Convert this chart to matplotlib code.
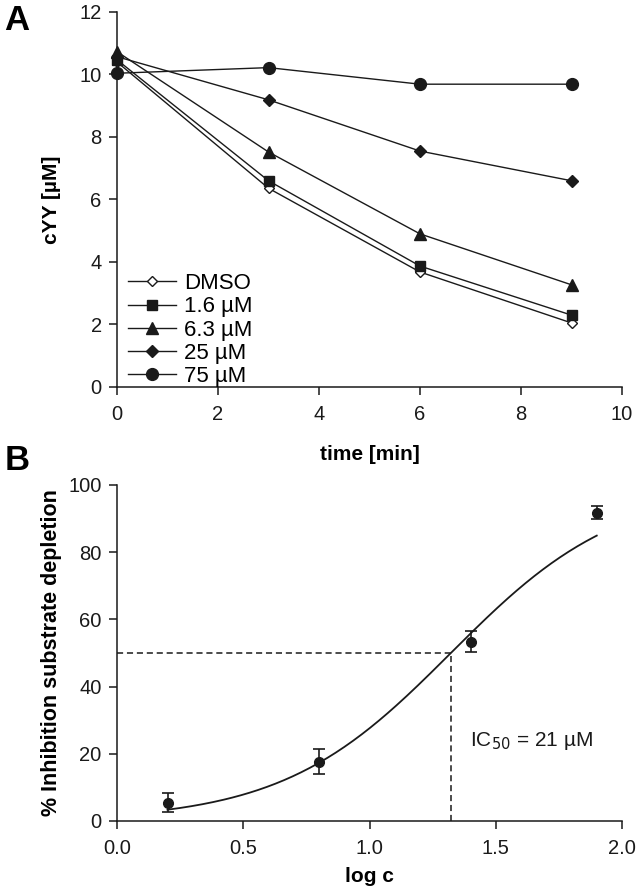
import numpy as np
import matplotlib
matplotlib.use("Agg")
import matplotlib.pyplot as plt

plt.rcParams['font.family'] = ['Liberation Sans', 'DejaVu Sans']

# ---- Panel A data ----
time_min = [0, 3, 6, 9]
series_labels = ["DMSO", "1.6 µM", "6.3 µM", "25 µM", "75 µM"]
cyy_dmso = [10.4, 6.36, 3.68, 2.05]
cyy_1_6 = [10.47, 6.6, 3.87, 2.3]
cyy_6_3 = [10.73, 7.52, 4.9, 3.27]
cyy_25 = [10.57, 9.19, 7.55, 6.6]
cyy_75 = [10.04, 10.22, 9.69, 9.69]

# ---- Panel B data ----
log_c = [0.2, 0.8, 1.4, 1.9]
inhibition = [5.4, 17.6, 53.4, 91.8]
inhibition_err = [2.8, 3.7, 3.0, 2.0]
# fitted dose-response parameters
ic50_uM = 21.0
hill = 1.3
fit_bottom = 0.0
fit_top = 100.0

W, H = 644, 890
fig = plt.figure(figsize=(W/100, H/100), dpi=100)
lc = '#1a1a1a'
tfs = 14.5   # tick labels
lfs = 15     # axis labels

def style(ax):
    ax.spines['top'].set_visible(False)
    ax.spines['right'].set_visible(False)
    for s in ['left', 'bottom']:
        ax.spines[s].set_linewidth(1.1)
        ax.spines[s].set_color(lc)
    ax.tick_params(direction='out', length=6, width=1.1, labelsize=tfs, colors=lc)
    ax.tick_params(axis='x', pad=7)
    ax.tick_params(axis='y', pad=5)

# Panel A
axA = fig.add_axes([117/W, 1-387/H, (622-117)/W, (387-12)/H])
markers = [dict(marker='D', mfc='white', ms=5.5),
           dict(marker='s', mfc=lc, ms=7.5),
           dict(marker='^', mfc=lc, ms=8),
           dict(marker='D', mfc=lc, ms=6),
           dict(marker='o', mfc=lc, ms=8.5)]
for ys, lab, mk in zip([cyy_dmso, cyy_1_6, cyy_6_3, cyy_25, cyy_75], series_labels, markers):
    axA.plot(time_min, ys, color=lc, lw=1.0, mec=lc, label=lab, clip_on=False, **mk)
axA.set_xlim(0, 10)
axA.set_ylim(0, 12)
axA.set_xticks(range(0, 11, 2))
axA.set_yticks(range(0, 13, 2))
style(axA)
axA.set_ylabel("cYY [µM]", fontsize=lfs, fontweight='bold', va='center', ha='center')
axA.yaxis.set_label_coords(-0.129, 0.5)
axA.set_xlabel("time [min]", fontsize=lfs, fontweight='bold', va='center', ha='center')
axA.xaxis.set_label_coords(0.5, (387-455)/375)
leg = axA.legend(loc='lower left', bbox_to_anchor=(0.0, -0.03), frameon=False, fontsize=16,
                 handlelength=2.15, handletextpad=0.35, labelspacing=0.1, borderaxespad=0.3,
                 borderpad=0.2)

# Panel B
axB = fig.add_axes([117/W, 1-821/H, (622-117)/W, (821-485)/H])
xf = np.linspace(log_c[0], log_c[-1], 200)
log_ic50 = np.log10(ic50_uM)
yf = fit_bottom + (fit_top - fit_bottom) / (1 + 10 ** ((log_ic50 - xf) * hill))
axB.plot(xf, yf, color=lc, lw=1.3)
axB.errorbar(log_c, inhibition, yerr=inhibition_err, fmt='o', color=lc, ms=7,
             capsize=4, elinewidth=1.2, capthick=1.2, clip_on=False)
axB.plot([0, log_ic50], [50, 50], color=lc, lw=1.1, ls=(0, (4, 2.5)))
axB.plot([log_ic50, log_ic50], [0, 50], color=lc, lw=1.1, ls=(0, (4, 2.5)))
axB.text(1.397, 23.9, "IC$_{50}$ = 21 µM", fontsize=15, color=lc, va='center', ha='left')
axB.set_xlim(0, 2.0)
axB.set_ylim(0, 100)
axB.set_xticks([0.0, 0.5, 1.0, 1.5, 2.0])
axB.set_xticklabels(["0.0", "0.5", "1.0", "1.5", "2.0"])
axB.set_yticks(range(0, 101, 20))
style(axB)
axB.set_ylabel("% Inhibition substrate depletion", fontsize=15.5, fontweight='bold',
               va='center', ha='center')
axB.yaxis.set_label_coords(-0.129, 0.5)
axB.set_xlabel("log c", fontsize=lfs, fontweight='bold', va='center', ha='center')
axB.xaxis.set_label_coords(0.5, (821-877)/336)

fig.text(17/W, 1-21/H, "A", fontsize=25, fontweight='bold', va='center', ha='center')
fig.text(17/W, 1-460/H, "B", fontsize=25, fontweight='bold', va='center', ha='center')

fig.savefig("out.png", dpi=100)
